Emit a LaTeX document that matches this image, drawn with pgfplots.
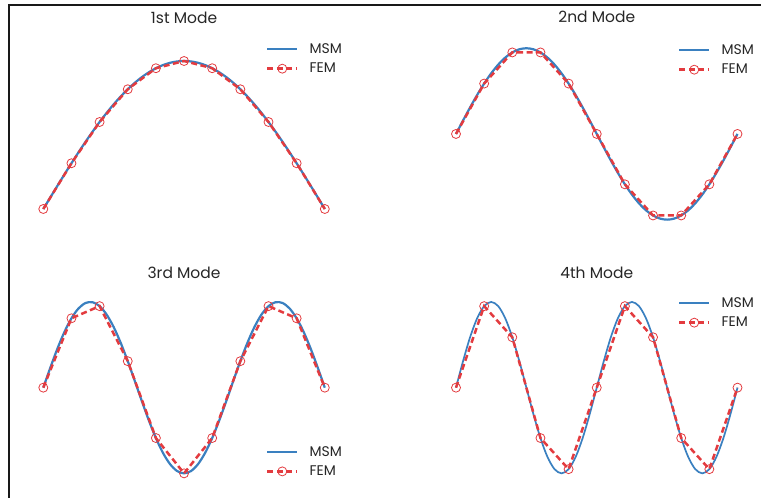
\documentclass[border=0pt]{standalone}
\usepackage{fontspec}
\setmainfont{Poppins}
\usepackage{pgfplots}
\usepackage{pgfplotstable}
\pgfplotsset{compat=1.18}
\definecolor{msm}{HTML}{3A80C0}
\definecolor{fem}{HTML}{E33B3F}

\pgfplotstableread{
x m1 m2 m3 m4
0.000 0 0 0 0
0.025 0.0785 0.1564 0.2334 0.3090
0.050 0.1564 0.3090 0.4540 0.5878
0.075 0.2334 0.4540 0.6494 0.8090
0.100 0.3090 0.5878 0.8090 0.9511
0.125 0.3827 0.7071 0.9239 1
0.150 0.4540 0.8090 0.9877 0.9511
0.175 0.5225 0.8910 0.9969 0.8090
0.200 0.5878 0.9511 0.9511 0.5878
0.225 0.6494 0.9877 0.8526 0.3090
0.250 0.7071 1 0.7071 0
0.275 0.7604 0.9877 0.5225 -0.3090
0.300 0.8090 0.9511 0.3090 -0.5878
0.325 0.8526 0.8910 0.0785 -0.8090
0.350 0.8910 0.8090 -0.1564 -0.9511
0.375 0.9239 0.7071 -0.3827 -1
0.400 0.9511 0.5878 -0.5878 -0.9511
0.425 0.9724 0.4540 -0.7604 -0.8090
0.450 0.9877 0.3090 -0.8910 -0.5878
0.475 0.9969 0.1564 -0.9724 -0.3090
0.500 1 0 -1 0
0.525 0.9969 -0.1564 -0.9724 0.3090
0.550 0.9877 -0.3090 -0.8910 0.5878
0.575 0.9724 -0.4540 -0.7604 0.8090
0.600 0.9511 -0.5878 -0.5878 0.9511
0.625 0.9239 -0.7071 -0.3827 1
0.650 0.8910 -0.8090 -0.1564 0.9511
0.675 0.8526 -0.8910 0.0785 0.8090
0.700 0.8090 -0.9511 0.3090 0.5878
0.725 0.7604 -0.9877 0.5225 0.3090
0.750 0.7071 -1 0.7071 0
0.775 0.6494 -0.9877 0.8526 -0.3090
0.800 0.5878 -0.9511 0.9511 -0.5878
0.825 0.5225 -0.8910 0.9969 -0.8090
0.850 0.4540 -0.8090 0.9877 -0.9511
0.875 0.3827 -0.7071 0.9239 -1
0.900 0.3090 -0.5878 0.8090 -0.9511
0.925 0.2334 -0.4540 0.6494 -0.8090
0.950 0.1564 -0.3090 0.4540 -0.5878
0.975 0.0785 -0.1564 0.2334 -0.3090
1.000 0 0 0 0
}\msmtable

\pgfplotstableread{
x f1 f2 f3 f4
0.0 0 0 0 0
0.1 0.3090 0.5878 0.8090 0.9511
0.2 0.5878 0.9511 0.9511 0.5878
0.3 0.8090 0.9511 0.3090 -0.5878
0.4 0.9511 0.5878 -0.5878 -0.9511
0.5 1 0 -1 0
0.6 0.9511 -0.5878 -0.5878 0.9511
0.7 0.8090 -0.9511 0.3090 0.5878
0.8 0.5878 -0.9511 0.9511 -0.5878
0.9 0.3090 -0.5878 0.8090 -0.9511
1.0 0 0 0 0
}\femtable

\pgfplotsset{
  modeaxis/.style={
    scale only axis, hide axis, clip=false,
    xmin=0, xmax=1, width=281.5pt,
    anchor=south west,
    title style={font=\fontsize{15.5}{17}\selectfont, anchor=base, yshift=-6pt, inner sep=0pt, text=black!85},
    legend style={draw=none, fill=none, font=\fontsize{14}{16}\selectfont,
      anchor=west, inner sep=0pt, row sep=8pt, column sep=11pt,
      nodes={inner sep=0pt, text=black!85}, cells={anchor=west}},
    legend image code/.code={\draw[mark repeat=2, mark phase=2, ##1] plot coordinates {(0pt,0pt) (15pt,0pt) (30pt,0pt)};},
  },
  msmline/.style={color=msm, line width=2.2pt, smooth, no marks},
  femline/.style={color=fem, line width=2.5pt, dash pattern=on 6pt off 3.5pt,
    mark=o, mark size=4.5pt, mark options={solid, line width=0.8pt}},
}

\begin{document}
\begin{tikzpicture}[x=1pt,y=1pt]
\useasboundingbox (0,0) rectangle (761,498);
\draw[line width=2pt, black!90] (9,0) -- (9,493) -- (761,493);

% 1st mode
\begin{axis}[modeaxis, at={(43.3pt,274.2pt)}, height=177.6pt, ymin=-0.1, ymax=1.1,
  title={1st Mode}, title style={at={(0.5,1.1306)}},
  legend style={at={(0.7906,0.928)}}]
\addplot[msmline] table[x=x, y=m1] {\msmtable};
\addlegendentry{MSM}
\addplot[femline] table[x=x, y=f1] {\femtable};
\addlegendentry{FEM}
\end{axis}

% 2nd mode
\begin{axis}[modeaxis, at={(456pt,261.2pt)}, height=205.7pt, ymin=-1.2, ymax=1.2,
  title={2nd Mode}, title style={at={(0.5,1.0394)}},
  legend style={at={(0.788,0.8595)}}]
\addplot[msmline] table[x=x, y=m2] {\msmtable};
\addlegendentry{MSM}
\addplot[femline] table[x=x, y=f2] {\femtable};
\addlegendentry{FEM}
\end{axis}

% 3rd mode
\begin{axis}[modeaxis, at={(43.3pt,7.5pt)}, height=205.7pt, ymin=-1.2, ymax=1.2,
  title={3rd Mode}, title style={at={(0.5,1.033)}},
  legend style={at={(0.7906,0.140)}}]
\addplot[msmline] table[x=x, y=m3] {\msmtable};
\addlegendentry{MSM}
\addplot[femline] table[x=x, y=f3] {\femtable};
\addlegendentry{FEM}
\end{axis}

% 4th mode
\begin{axis}[modeaxis, at={(456pt,7.5pt)}, height=205.7pt, ymin=-1.2, ymax=1.2,
  title={4th Mode}, title style={at={(0.5,1.033)}},
  legend style={at={(0.788,0.863)}}]
\addplot[msmline, line width=1.7pt] table[x=x, y=m4] {\msmtable};
\addlegendentry{MSM}
\addplot[femline] table[x=x, y=f4] {\femtable};
\addlegendentry{FEM}
\end{axis}
\end{tikzpicture}
\end{document}
